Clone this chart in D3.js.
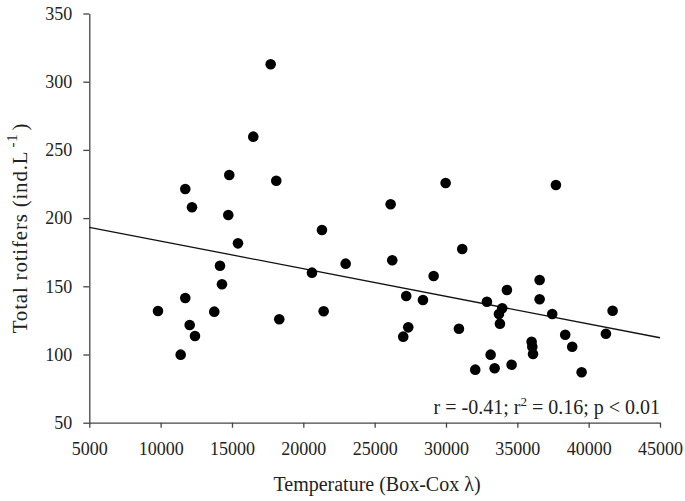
<!DOCTYPE html>
<html><head><meta charset="utf-8">
<script src="https://cdn.jsdelivr.net/npm/d3@7"></script>
<style>body{margin:0;background:#fff}svg{display:block}</style>
</head><body>
<svg id="c" width="685" height="501"></svg>
<script>
const temperature = [17712,16493,14811,18105,11727,12197,14741,21307,15421,14159,14299,20606,22968,11727,9814,13760,21426,18315,12036,12407,11405,
26121,26233,31139,29135,36563,27214,28385,34271,36563,32870,33942,33711,33781,37446,41678,41209,27355,27004,30907,38357,38847,36002,36050,36100,33129,32050,33409,34600,39506,29975,37705];
const rotifers = [312.8,259.7,231.6,227.4,221.3,207.9,202.3,191.3,181.5,165.1,151.5,160,166.6,141.4,131.9,131.4,131.7,125.8,121.6,113.6,99.9,
210.1,169.1,177.3,157.6,154.6,142.9,140,147.3,140.5,138.7,133.9,129.7,122.6,129.7,132.1,115.2,119.9,113.1,118.9,114.5,105.7,109.4,105.7,100.4,99.9,88.9,89.9,92.5,87,225.7,224.3];
const xTicks = [5000,10000,15000,20000,25000,30000,35000,40000,45000];
const yTicks = [50,100,150,200,250,300,350];
const fitIntercept = 203.4, fitSlope = -0.002025;
const statsLabel = "r = -0.41; r";

const svg = d3.select("#c");
const font = "'Liberation Serif','Times New Roman',serif";
const x = d3.scaleLinear().domain([5000,45000]).range([89.3,660]);
const y = d3.scaleLinear().domain([50,350]).range([422.7,13.5]);

const gx = svg.append("g").attr("transform","translate(0,422.7)")
  .call(d3.axisBottom(x).tickValues(xTicks).tickSize(5).tickPadding(14.5).tickSizeOuter(0).tickFormat(d3.format("d")));
const gy = svg.append("g").attr("transform","translate(89.3,0)")
  .call(d3.axisLeft(y).tickValues(yTicks).tickSize(6).tickPadding(11).tickSizeOuter(0).tickFormat(d3.format("d")));
[gx,gy].forEach(g=>{
  g.selectAll("path,line").attr("stroke","#444").attr("stroke-width",1.3);
  g.selectAll("text").attr("font-family",font).attr("font-size",18).attr("fill","#222");
});

svg.append("line")
  .attr("x1",x(5000)).attr("y1",y(fitIntercept+fitSlope*5000))
  .attr("x2",x(45000)).attr("y2",y(fitIntercept+fitSlope*45000))
  .attr("stroke","#111").attr("stroke-width",1.3);

svg.append("g").selectAll("circle").data(temperature.map((t,i)=>[t,rotifers[i]]))
  .join("circle").attr("cx",d=>x(d[0])).attr("cy",d=>y(d[1])).attr("r",5.3).attr("fill","#000");

const st = svg.append("text").attr("x",660).attr("y",414).attr("text-anchor","end")
  .attr("font-family",font).attr("font-size",20).attr("fill","#222");
st.append("tspan").text(statsLabel);
st.append("tspan").attr("dy",-8).attr("font-size",13).text("2");
st.append("tspan").attr("dy",8).text(" = 0.16; p < 0.01");

svg.append("text").attr("x",377).attr("y",491).attr("text-anchor","middle")
  .attr("font-family",font).attr("font-size",20).attr("fill","#222").text("Temperature (Box-Cox λ)");

const yt = svg.append("text").attr("transform","translate(27,228) rotate(-90)").attr("text-anchor","middle")
  .attr("font-family",font).attr("font-size",21).attr("letter-spacing","0.8px").attr("fill","#222");
yt.append("tspan").text("Total rotifers (ind.L");
yt.append("tspan").attr("dy",-10).attr("dx",3).attr("font-size",15).text("-1");
yt.append("tspan").attr("dy",10).attr("dx",3).text(")");
</script>
</body></html>
